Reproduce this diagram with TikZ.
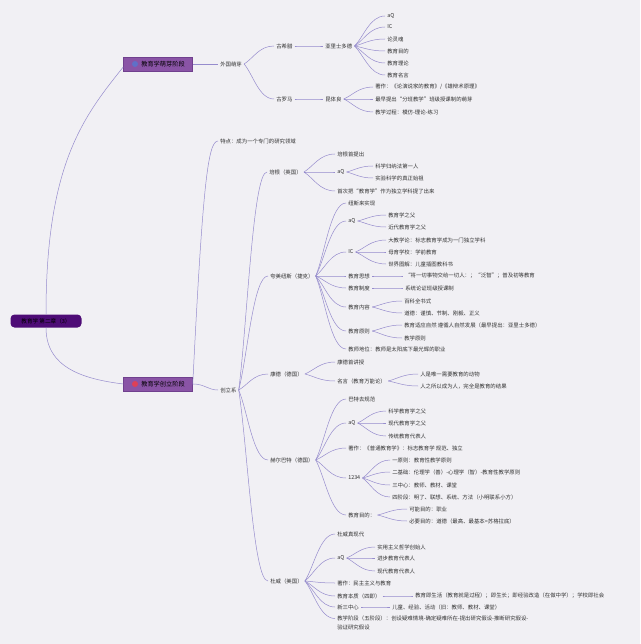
\documentclass[tikz,border=0pt]{standalone}
\usepackage{fontspec}
\usepackage{tikz}
\usetikzlibrary{calc}
\newfontfamily\cjk{Noto Sans CJK SC}
\definecolor{bg_gray}{RGB}{241,240,244}
\definecolor{edge_purple}{RGB}{150,140,205}
\definecolor{text_gray}{RGB}{50,50,50}
\definecolor{box_purple}{RGB}{138,84,166}
\definecolor{box_edge}{RGB}{112,64,142}
\definecolor{root_purple}{RGB}{78,12,118}
\definecolor{icon_blue}{RGB}{96,112,200}
\definecolor{icon_red}{RGB}{222,64,88}

\begin{document}
\begin{tikzpicture}[x=1pt,y=-1pt,line width=0.5pt]
    \tikzstyle{txt}=[anchor=west, inner sep=2pt, text=text_gray, font=\cjk\fontsize{5.4}{9}\selectfont]
    \tikzstyle{stage}=[draw=box_edge, fill=box_purple, minimum width=69pt, minimum height=14pt, inner sep=0pt, text=black, font=\cjk\fontsize{6.2}{7}\selectfont]
    \tikzstyle{root}=[fill=root_purple, rounded corners=4pt, minimum width=71pt, minimum height=13pt, inner sep=0pt, text=black, font=\cjk\fontsize{5.6}{7}\selectfont]
    \tikzstyle{branch}=[draw=edge_purple, to path={.. controls ($(\tikztostart)!.3!(\tikztotarget)$) and ($(\tikztostart|-\tikztotarget)!.5!(\tikztotarget)$) .. (\tikztotarget)}]

    \fill[bg_gray] (0,0) rectangle (640,644);
    \useasboundingbox (0,0) rectangle (640,644);

    \node[root]  (r) at (46,321)  {教育学 第二章（3）};
    \node[stage] (m) at (158,64)  {\hspace*{10pt}教育学萌芽阶段};
    \node[stage] (c) at (158,384) {\hspace*{10pt}教育学创立阶段};
    \fill[icon_blue] (135,64) circle (3pt);
    \fill[icon_red] (135,384) circle (3pt);

    \node[txt] (wg)  at (218,64)  {外国萌芽};
    \node[txt] (xl)  at (274,46)  {古希腊};
    \node[txt] (lm)  at (274,99)  {古罗马};
    \node[txt] (ya)  at (323,46)  {亚里士多德};
    \node[txt] (kt)  at (323,99)  {昆体良};
    \node[txt] (ya1) at (385,16)  {aQ};
    \node[txt] (ya2) at (385,27)  {IC};
    \node[txt] (ya3) at (385,39)  {论灵魂};
    \node[txt] (ya4) at (385,51)  {教育目的};
    \node[txt] (ya5) at (385,63)  {教育理论};
    \node[txt] (ya6) at (385,75)  {教育名言};
    \node[txt] (kt1) at (373,87)  {著作：《论演说家的教育》/《雄辩术原理》};
    \node[txt] (kt2) at (373,99)  {最早提出“分班教学”班级授课制的萌芽};
    \node[txt] (kt3) at (373,112) {教学过程：模仿-理论-练习};

    \node[txt] (td) at (218,141) {特点：成为一个专门的研究领域};
    \node[txt] (cl) at (218,390) {创立系};
    \node[txt] (pg) at (267,172) {培根（英国）};
    \node[txt] (km) at (268,276) {夸美纽斯（捷克）};
    \node[txt] (kd) at (268,374) {康德（德国）};
    \node[txt] (hb) at (268,460) {赫尔巴特（德国）};
    \node[txt] (dw) at (268,581) {杜威（美国）};

    \node[txt] (pg1)  at (335,154) {培根首提出};
    \node[txt] (pg2)  at (335,172) {aQ};
    \node[txt] (pg3)  at (335,191) {首次把“教育学”作为独立学科提了出来};
    \node[txt] (pg21) at (373,166) {科学归纳法第一人};
    \node[txt] (pg22) at (373,178) {实验科学的真正始祖};

    \node[txt] (km1)  at (346,203) {纽斯来实现};
    \node[txt] (km2)  at (346,221) {aQ};
    \node[txt] (km3)  at (346,252) {IC};
    \node[txt] (km4)  at (346,276) {教育思想};
    \node[txt] (km5)  at (346,288) {教育制度};
    \node[txt] (km6)  at (346,307) {教育内容};
    \node[txt] (km7)  at (346,331) {教育原则};
    \node[txt] (km8)  at (346,349) {教师地位：教师是太阳底下最光辉的职业};
    \node[txt] (km21) at (386,215) {教育学之父};
    \node[txt] (km22) at (386,227) {近代教育学之父};
    \node[txt] (km31) at (386,240) {大教学论：标志教育学成为一门独立学科};
    \node[txt] (km32) at (386,252) {母育学校：学前教育};
    \node[txt] (km33) at (386,264) {世界图解：儿童插图教科书};
    \node[txt] (km41) at (403,276) {“将一切事物交给一切人：；“泛智”；普及初等教育};
    \node[txt] (km51) at (403,288) {系统论证班级授课制};
    \node[txt] (km61) at (402,301) {百科全书式};
    \node[txt] (km62) at (402,313) {道德：谨慎、节制、刚毅、正义};
    \node[txt] (km71) at (402,325) {教育适应自然 遵循人自然发展（最早提出：亚里士多德）};
    \node[txt] (km72) at (402,338) {教学原则};

    \node[txt] (kd1)  at (335,362) {康德首讲授};
    \node[txt] (kd2)  at (335,381) {名言（教育万能论）};
    \node[txt] (kd21) at (418,374) {人是唯一需要教育的动物};
    \node[txt] (kd22) at (418,386) {人之所以成为人，完全是教育的结果};

    \node[txt] (hb1)  at (346,399) {巴特去规范};
    \node[txt] (hb2)  at (346,423) {aQ};
    \node[txt] (hb3)  at (346,448) {著作：《普通教育学》：标志教育学 规范、独立};
    \node[txt] (hb4)  at (346,478) {1234};
    \node[txt] (hb5)  at (346,515) {教育目的：};
    \node[txt] (hb21) at (386,411) {科学教育学之父};
    \node[txt] (hb22) at (386,423) {现代教育学之父};
    \node[txt] (hb23) at (386,436) {传统教育代表人};
    \node[txt] (hb41) at (390,460) {一原则：教育性教学原则};
    \node[txt] (hb42) at (390,472) {二基础：伦理学（善）-心理学（智）-教育性教学原则};
    \node[txt] (hb43) at (390,485) {三中心：教师、教材、课堂};
    \node[txt] (hb44) at (390,497) {四阶段：明了、联想、系统、方法（小明联系小方）};
    \node[txt] (hb51) at (407,509) {可能目的：职业};
    \node[txt] (hb52) at (407,521) {必要目的：道德（最高、最基本=苏格拉底）};

    \node[txt] (dw1)  at (335,534) {杜威真现代};
    \node[txt] (dw2)  at (335,558) {aQ};
    \node[txt] (dw3)  at (335,583) {著作：民主主义与教育};
    \node[txt] (dw4)  at (335,596) {教育本质（四即）};
    \node[txt] (dw5)  at (335,607) {新三中心};
    \node[txt, anchor=north west, align=left] (dw6) at (335,613.5) {教学阶段（五阶段）：创设疑难情境-确定疑难所在-提出研究假设-推断研究假设-\\验证研究假设};
    \node[txt] (dw21) at (375,547) {实用主义哲学创始人};
    \node[txt] (dw22) at (375,558) {进步教育代表人};
    \node[txt] (dw23) at (375,571) {现代教育代表人};
    \node[txt] (dw41) at (413,596) {教育即生活（教育就是过程）；即生长；即经验改造（在做中学）；学校即社会};
    \node[txt] (dw51) at (390,607) {儿童、经验、活动（旧：教师、教材、课堂）};

    \draw[edge_purple] (r.north) .. controls +(0,-150) and +(-40,50) .. ([yshift=-3pt]m.west);
    \draw[edge_purple] (r.south) .. controls +(0,40) and +(-40,-5) .. (c.west);
    \draw[edge_purple] (c.east) .. controls +(10,-200) and +(-10,0) .. (td.west);
    \draw[edge_purple] (c.east) .. controls +(12,0) and +(-10,0) .. (cl.west);
    \draw[edge_purple] (m.east) -- (wg.west);

    \path
     (wg.east) edge[branch] (xl.west)
     (wg.east) edge[branch] (lm.west)
     (xl.east) edge[branch] (ya.west)
     (lm.east) edge[branch] (kt.west)
     (ya.east) edge[branch] (ya1.west)
     (ya.east) edge[branch] (ya2.west)
     (ya.east) edge[branch] (ya3.west)
     (ya.east) edge[branch] (ya4.west)
     (ya.east) edge[branch] (ya5.west)
     (ya.east) edge[branch] (ya6.west)
     (kt.east) edge[branch] (kt1.west)
     (kt.east) edge[branch] (kt2.west)
     (kt.east) edge[branch] (kt3.west)
     (cl.east) edge[branch] (pg.west)
     (cl.east) edge[branch] (km.west)
     (cl.east) edge[branch] (kd.west)
     (cl.east) edge[branch] (hb.west)
     (cl.east) edge[branch] (dw.west)
     (pg.east) edge[branch] (pg1.west)
     (pg.east) edge[branch] (pg2.west)
     (pg.east) edge[branch] (pg3.west)
     (pg2.east) edge[branch] (pg21.west)
     (pg2.east) edge[branch] (pg22.west)
     (km.east) edge[branch] (km1.west)
     (km.east) edge[branch] (km2.west)
     (km.east) edge[branch] (km3.west)
     (km.east) edge[branch] (km4.west)
     (km.east) edge[branch] (km5.west)
     (km.east) edge[branch] (km6.west)
     (km.east) edge[branch] (km7.west)
     (km.east) edge[branch] (km8.west)
     (km2.east) edge[branch] (km21.west)
     (km2.east) edge[branch] (km22.west)
     (km3.east) edge[branch] (km31.west)
     (km3.east) edge[branch] (km32.west)
     (km3.east) edge[branch] (km33.west)
     (km4.east) edge[branch] (km41.west)
     (km5.east) edge[branch] (km51.west)
     (km6.east) edge[branch] (km61.west)
     (km6.east) edge[branch] (km62.west)
     (km7.east) edge[branch] (km71.west)
     (km7.east) edge[branch] (km72.west)
     (kd.east) edge[branch] (kd1.west)
     (kd.east) edge[branch] (kd2.west)
     (kd2.east) edge[branch] (kd21.west)
     (kd2.east) edge[branch] (kd22.west)
     (hb.east) edge[branch] (hb1.west)
     (hb.east) edge[branch] (hb2.west)
     (hb.east) edge[branch] (hb3.west)
     (hb.east) edge[branch] (hb4.west)
     (hb.east) edge[branch] (hb5.west)
     (hb2.east) edge[branch] (hb21.west)
     (hb2.east) edge[branch] (hb22.west)
     (hb2.east) edge[branch] (hb23.west)
     (hb4.east) edge[branch] (hb41.west)
     (hb4.east) edge[branch] (hb42.west)
     (hb4.east) edge[branch] (hb43.west)
     (hb4.east) edge[branch] (hb44.west)
     (hb5.east) edge[branch] (hb51.west)
     (hb5.east) edge[branch] (hb52.west)
     (dw.east) edge[branch] (dw1.west)
     (dw.east) edge[branch] (dw2.west)
     (dw.east) edge[branch] (dw3.west)
     (dw.east) edge[branch] (dw4.west)
     (dw.east) edge[branch] (dw5.west)
     (dw.east) edge[branch] ([yshift=-5pt]dw6.north west)
     (dw2.east) edge[branch] (dw21.west)
     (dw2.east) edge[branch] (dw22.west)
     (dw2.east) edge[branch] (dw23.west)
     (dw4.east) edge[branch] (dw41.west)
     (dw5.east) edge[branch] (dw51.west)
     ;
\end{tikzpicture}
\end{document}
